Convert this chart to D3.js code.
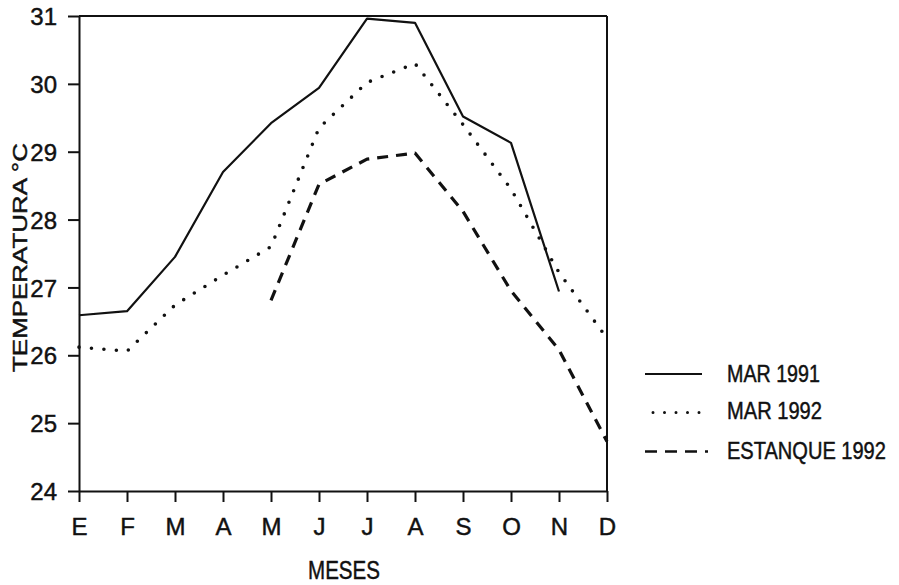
<!DOCTYPE html>
<html>
<head>
<meta charset="utf-8">
<script src="https://cdn.jsdelivr.net/npm/d3@7"></script>
<style>
  html, body { margin: 0; padding: 0; background: #fff; }
  svg { display: block; }
  text { font-family: "Liberation Sans Narrow", "Arial Narrow", "Liberation Sans", Arial, sans-serif; fill: #111; stroke: #111; stroke-width: 0.45px; }
</style>
</head>
<body>
<svg id="chart" width="899" height="585"></svg>
<script>
// ---- data ----
const months = ["E", "F", "M", "A", "M", "J", "J", "A", "S", "O", "N", "D"];
const yTicks = [24, 25, 26, 27, 28, 29, 30, 31];
const mar1991 = [26.59, 26.65, 27.45, 28.70, 29.42, 29.94, 30.96, 30.90, 29.52, 29.13, 26.94, null];
const mar1992 = [26.12, 26.06, 26.74, 27.18, 27.60, 29.35, 30.02, 30.30, 29.40, 28.45, 27.22, 26.25];
const estanque1992 = [null, null, null, null, 26.81, 28.52, 28.89, 28.98, 28.12, 26.95, 26.08, 24.73];
const seriesNames = ["MAR 1991", "MAR 1992", "ESTANQUE 1992"];

// ---- layout ----
const svg = d3.select("#chart");
const pLeft = 79, pRight = 607, pTop = 16, pBottom = 491;

const x = d3.scalePoint().domain(d3.range(months.length)).range([pLeft, pRight]);
const y = d3.scaleLinear().domain([24, 31]).range([pBottom, pTop]);

const ink = "#111";

// text squeezed/stretched horizontally to a target width (scan proportions)
function fitText(sel, targetW, anchor) {
  const node = sel.node();
  const w = node.getComputedTextLength();
  const sx = targetW / w;
  const ax = anchor === "middle" ? 0 : 0;
  sel.attr("data-sx", sx);
  return sx;
}

// frame (top, right)
svg.append("line").attr("x1", pLeft).attr("x2", pRight).attr("y1", pTop).attr("y2", pTop)
  .attr("stroke", ink).attr("stroke-width", 2);
svg.append("line").attr("x1", pRight).attr("x2", pRight).attr("y1", pTop).attr("y2", pBottom)
  .attr("stroke", ink).attr("stroke-width", 2);

// y axis
const gy = svg.append("g").attr("transform", `translate(${pLeft},0)`)
  .call(d3.axisLeft(y).tickValues(yTicks).tickFormat(d3.format("d")).tickSize(11).tickSizeOuter(0).tickPadding(11));
gy.attr("font-family", null).attr("font-size", null);
gy.select(".domain").attr("stroke", ink).attr("stroke-width", 2);
gy.selectAll(".tick line").attr("stroke", ink).attr("stroke-width", 2);
gy.selectAll(".tick text").attr("font-size", 24).attr("dy", "0.36em").attr("fill", ink);

// x axis
const gx = svg.append("g").attr("transform", `translate(0,${pBottom})`)
  .call(d3.axisBottom(x).tickFormat(i => months[i]).tickSize(11).tickSizeOuter(0));
gx.attr("font-family", null).attr("font-size", null);
gx.select(".domain").attr("stroke", ink).attr("stroke-width", 2);
gx.selectAll(".tick line").attr("stroke", ink).attr("stroke-width", 2);
gx.selectAll(".tick text").attr("font-size", 24).attr("y", 44).attr("dy", 0).attr("fill", ink);

// axis titles
const yTitleG = svg.append("g");
const yTitle = yTitleG.append("text")
  .attr("text-anchor", "middle")
  .attr("font-size", 20)
  .style("font-family", '"Liberation Sans", Arial, sans-serif')
  .text("TEMPERATURA °C");
const syT = fitText(yTitle, 229);
yTitleG.attr("transform", `translate(27,${(143 + 372) / 2}) rotate(-90) scale(${syT},1)`);

const xTitleG = svg.append("g");
const xTitle = xTitleG.append("text")
  .attr("text-anchor", "middle")
  .attr("font-size", 25)
  .text("MESES");
const sxT = fitText(xTitle, 72);
xTitleG.attr("transform", `translate(344,579) scale(${sxT},1)`);

// lines
const line = d3.line()
  .defined(d => d != null)
  .x((d, i) => x(i))
  .y(d => y(d));

const styles = [
  { data: mar1991, width: 2.2, dash: null, cap: "butt" },
  { data: mar1992, width: 3.6, dash: "0,12.5", cap: "round" },
  { data: estanque1992, width: 3.2, dash: "11,8", cap: "butt" }
];

styles.forEach(s => {
  svg.append("path")
    .datum(s.data)
    .attr("d", line)
    .attr("fill", "none")
    .attr("stroke", ink)
    .attr("stroke-width", s.width)
    .attr("stroke-linecap", s.cap)
    .attr("stroke-linejoin", "round")
    .attr("stroke-dasharray", s.dash);
});

// legend
const legendRows = [
  { y: 374, ty: 381.5, len: 93, st: styles[0] },
  { y: 412.5, ty: 418.5, len: 95, st: styles[1] },
  { y: 451.5, ty: 458.5, len: 159, st: styles[2] }
];
legendRows.forEach((r, i) => {
  svg.append("line")
    .attr("x1", i === 1 ? 653 : 645).attr("x2", i === 2 ? 708 : 702)
    .attr("y1", r.y).attr("y2", r.y)
    .attr("stroke", ink)
    .attr("stroke-width", i === 0 ? 2 : (i === 1 ? 3 : 2.6))
    .attr("stroke-linecap", r.st.cap)
    .attr("stroke-dasharray", i === 1 ? "0,11.5" : (i === 2 ? "12,8" : null));
  const g = svg.append("g");
  const t = g.append("text")
    .attr("font-size", 23)
    .text(seriesNames[i]);
  const s = fitText(t, r.len);
  g.attr("transform", `translate(727,${r.ty}) scale(${s},1)`);
});
</script>
</body>
</html>
